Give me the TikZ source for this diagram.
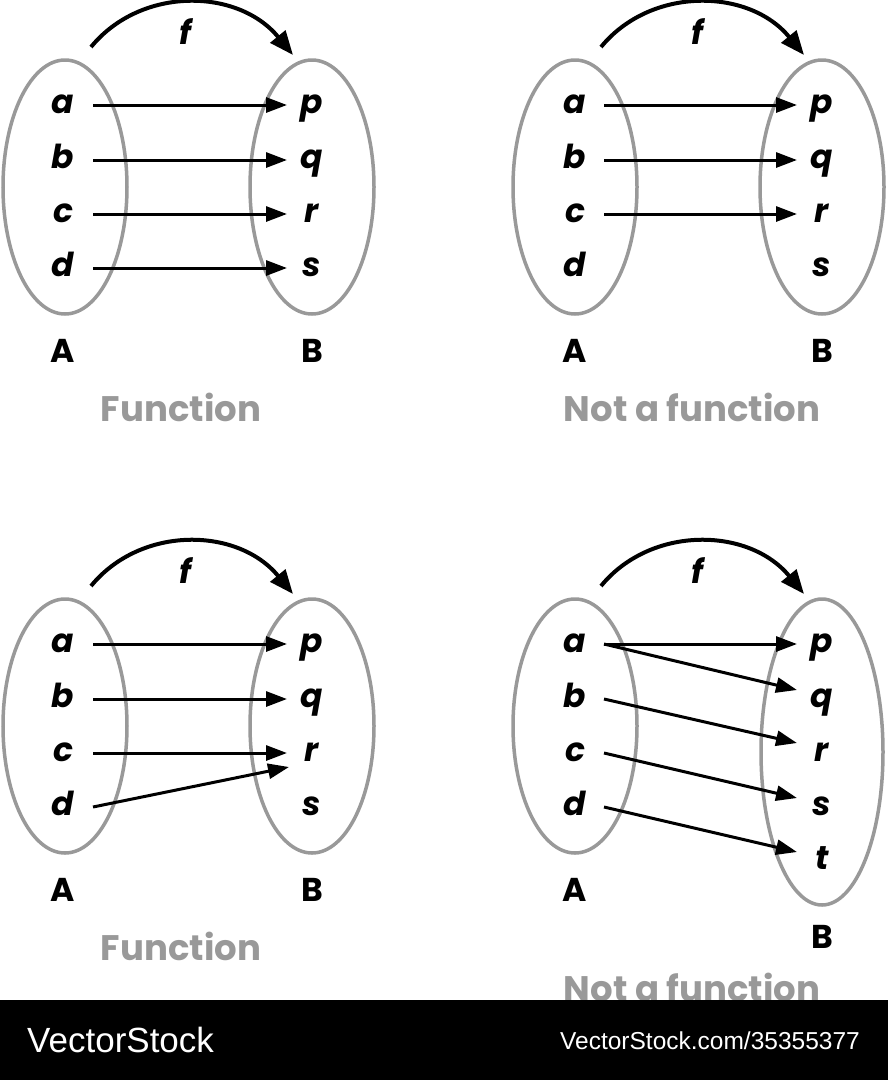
\documentclass[tikz,border=0pt]{standalone}
\usepackage{fontspec}
\setsansfont{Poppins}
\newfontfamily\bandfont{Liberation Sans}
\usetikzlibrary{arrows.meta}
\definecolor{setgray}{HTML}{999999}
\definecolor{labelgray}{HTML}{999999}

\tikzset{
  elt/.style={font=\sffamily\bfseries\itshape\fontsize{33}{36}\selectfont,
    text height=17pt, text depth=0pt, inner sep=0pt},
  setname/.style={font=\sffamily\bfseries\fontsize{33}{36}\selectfont, inner sep=0pt},
  verdict/.style={font=\sffamily\bfseries\fontsize{35.5}{40}\selectfont,
    text=labelgray, inner sep=0pt},
  setline/.style={draw=setgray, line width=3.5pt},
  map/.style={-{Triangle[length=21pt,width=15pt]}, line width=3pt},
  fmap/.style={-{Triangle[length=24pt,width=19pt]}, line width=4pt},
  band/.style={font=\bandfont, text=white, inner sep=0pt}
}

\begin{document}
\begin{tikzpicture}[%
        x = 1pt, y = -1pt
    ]
      \useasboundingbox (0,0) rectangle (888,1080);

      % top left
      \draw[setline] (65,187) ellipse [x radius=62, y radius=127];
      \draw[setline] (312,187) ellipse [x radius=62, y radius=127];
      \node[elt] (a1) at (63,105) {a};
      \node[elt] (b1) at (63,160) {b};
      \node[elt] (c1) at (63,214) {c};
      \node[elt] (d1) at (63,268) {d};
      \node[elt] (p1) at (312,105) {p};
      \node[elt] (q1) at (312,160) {q};
      \node[elt] (r1) at (312,214) {r};
      \node[elt] (s1) at (312,268) {s};
      \node[setname] (A1) at (63,351) {A};
      \node[setname] (B1) at (312,351) {B};
      \node[verdict] (v1) at (181,407) {Function};
      \coordinate (fs1) at (91,47);
      \coordinate (fe1) at (293,55);
      \draw[fmap] (fs1) .. controls (141,-14) and (238,-12) .. (fe1);
      \node[elt] (f1) at (185,36) {f};
      \draw[map] ([xshift=30pt]a1.center) -- ([xshift=-25pt]p1.center);
      \draw[map] ([xshift=30pt]b1.center) -- ([xshift=-25pt]q1.center);
      \draw[map] ([xshift=30pt]c1.center) -- ([xshift=-25pt]r1.center);
      \draw[map] ([xshift=30pt]d1.center) -- ([xshift=-25pt]s1.center);

      % top right
      \begin{scope}[shift={(510,0)}]
      \draw[setline] (65,187) ellipse [x radius=62, y radius=127];
      \draw[setline] (312,187) ellipse [x radius=62, y radius=127];
      \node[elt] (a2) at (65,105) {a};
      \node[elt] (b2) at (65,160) {b};
      \node[elt] (c2) at (65,214) {c};
      \node[elt] (d2) at (65,268) {d};
      \node[elt] (p2) at (312,105) {p};
      \node[elt] (q2) at (312,160) {q};
      \node[elt] (r2) at (312,214) {r};
      \node[elt] (s2) at (312,268) {s};
      \node[setname] (A2) at (65,351) {A};
      \node[setname] (B2) at (312,351) {B};
      \node[verdict] (v2) at (182,407) {Not a function};
      \coordinate (fs2) at (91,47);
      \coordinate (fe2) at (294,55);
      \draw[fmap] (fs2) .. controls (141,-14) and (239,-12) .. (fe2);
      \node[elt] (f2) at (187,36) {f};
      \draw[map] ([xshift=29pt]a2.center) -- ([xshift=-25pt]p2.center);
      \draw[map] ([xshift=29pt]b2.center) -- ([xshift=-25pt]q2.center);
      \draw[map] ([xshift=29pt]c2.center) -- ([xshift=-25pt]r2.center);
      \end{scope}

      % bottom left
      \begin{scope}[shift={(0,539)}]
      \draw[setline] (65,187) ellipse [x radius=62, y radius=127];
      \draw[setline] (312,187) ellipse [x radius=62, y radius=127];
      \node[elt] (a3) at (63,105) {a};
      \node[elt] (b3) at (63,160) {b};
      \node[elt] (c3) at (63,214) {c};
      \node[elt] (d3) at (63,268) {d};
      \node[elt] (p3) at (312,105) {p};
      \node[elt] (q3) at (312,160) {q};
      \node[elt] (r3) at (312,214) {r};
      \node[elt] (s3) at (312,268) {s};
      \node[setname] (A3) at (63,351) {A};
      \node[setname] (B3) at (312,351) {B};
      \node[verdict] (v3) at (181,407) {Function};
      \coordinate (fs3) at (91,47);
      \coordinate (fe3) at (293,55);
      \draw[fmap] (fs3) .. controls (141,-14) and (238,-12) .. (fe3);
      \node[elt] (f3) at (185,36) {f};
      \draw[map] ([xshift=30pt]a3.center) -- ([xshift=-25pt]p3.center);
      \draw[map] ([xshift=30pt]b3.center) -- ([xshift=-25pt]q3.center);
      \draw[map] ([xshift=30pt]c3.center) -- ([xshift=-25pt]r3.center);
      \draw[map] ([xshift=30pt]d3.center) -- ([xshift=-23pt,yshift=-14pt]r3.center);
      \end{scope}

      % bottom right
      \begin{scope}[shift={(510,539)}]
      \draw[setline] (65,187) ellipse [x radius=62, y radius=127];
      \draw[setline] (312,213) ellipse [x radius=61, y radius=153];
      \node[elt] (a4) at (65,105) {a};
      \node[elt] (b4) at (65,160) {b};
      \node[elt] (c4) at (65,214) {c};
      \node[elt] (d4) at (65,268) {d};
      \node[elt] (p4) at (312,105) {p};
      \node[elt] (q4) at (312,160) {q};
      \node[elt] (r4) at (312,214) {r};
      \node[elt] (s4) at (312,268) {s};
      \node[elt] (t4) at (312,322) {t};
      \node[setname] (A4) at (65,351) {A};
      \node[setname] (B4) at (312,398) {B};
      \node[verdict] (v4) at (182,448) {Not a function};
      \coordinate (fs4) at (91,47);
      \coordinate (fe4) at (294,55);
      \draw[fmap] (fs4) .. controls (141,-14) and (239,-12) .. (fe4);
      \node[elt] (f4) at (187,36) {f};
      \draw[map] ([xshift=29pt]a4.center) -- ([xshift=-25pt]p4.center);
      \draw[map] ([xshift=29pt]a4.center) -- ([xshift=-25pt,yshift=9pt]q4.center);
      \draw[map] ([xshift=29pt]b4.center) -- ([xshift=-25pt,yshift=10pt]r4.center);
      \draw[map] ([xshift=29pt]c4.center) -- ([xshift=-25pt,yshift=9pt]s4.center);
      \draw[map] ([xshift=29pt]d4.center) -- ([xshift=-25pt,yshift=9pt]t4.center);
      \end{scope}

      \fill[black] (0,1000) rectangle (888,1080);
      \node[band, anchor=west, font=\bandfont\fontsize{35}{40}\selectfont] (logo) at (27,1040) {VectorStock};
      \node[band, anchor=east, font=\bandfont\fontsize{24.5}{28}\selectfont] (url) at (860,1041) {VectorStock.com/35355377};
    \end{tikzpicture}
\end{document}
